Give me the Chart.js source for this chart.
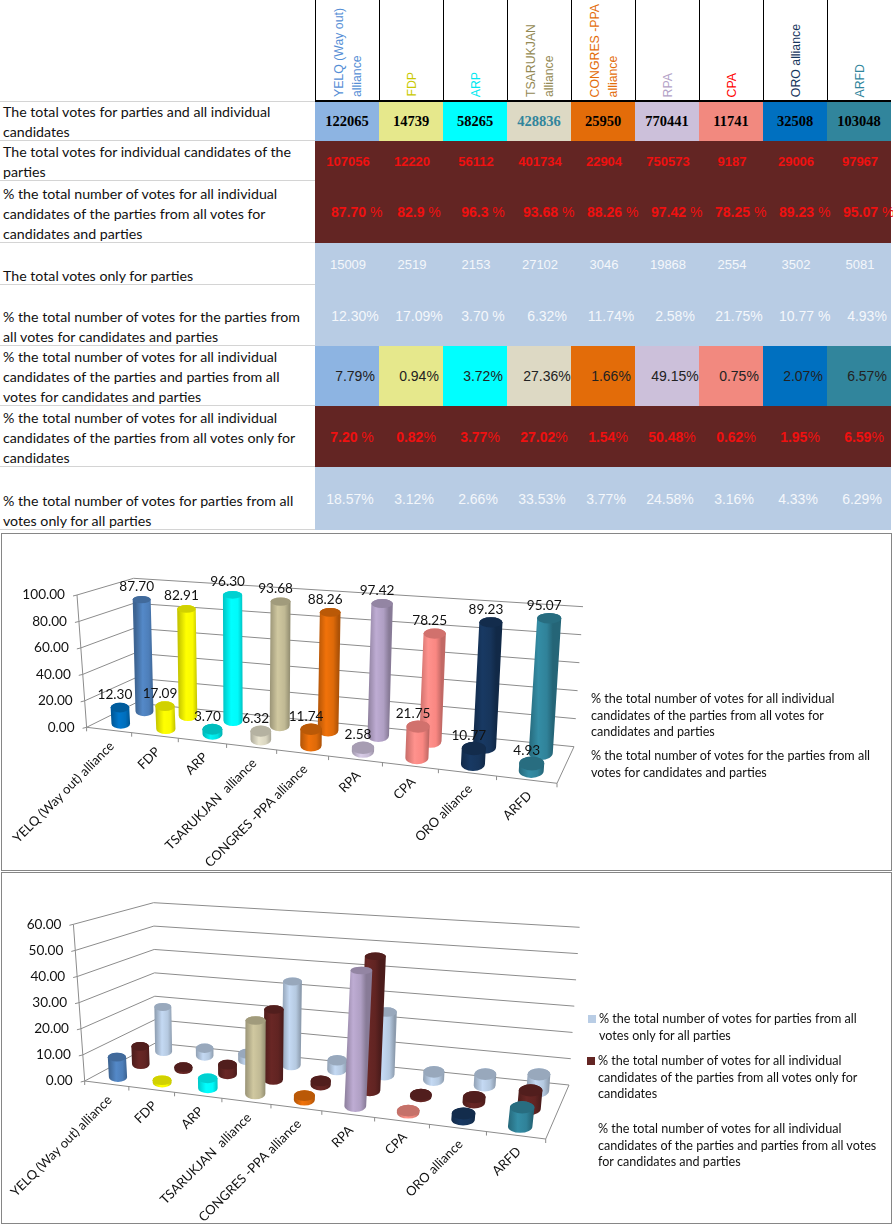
<!DOCTYPE html>
<html>
<head>
<meta charset="utf-8">
<script src="https://cdn.jsdelivr.net/npm/chart.js"></script>
<style>
  body { margin: 0; background: #fff; width: 893px; height: 1229px; position: relative; overflow: hidden; font-family: Lato, sans-serif; }
  table { position: absolute; left: 0; top: 0; border-collapse: separate; border-spacing: 0; table-layout: fixed; width: 891px; }
  td { padding: 0; text-align: center; vertical-align: middle; white-space: nowrap; box-sizing: border-box; }
  td.name { text-align: left; vertical-align: bottom; white-space: pre-line; font-size: 14.2px; line-height: 20px; padding-left: 3px; color: #111; border-bottom: 1px solid #d4d4d4; }
  td.name div { margin-top: -5px; position: relative; top: 2px; }
  td.head { border-left: 1px solid #000; border-bottom: 2px solid #000; vertical-align: bottom; padding-bottom: 3px; }
  td.head div { writing-mode: vertical-rl; transform: rotate(180deg); white-space: pre; font: 12.3px/18px "Liberation Sans", sans-serif; margin: 0 auto; text-align: left; }
  td span { font-weight: normal; }
  .panel { position: absolute; left: 1px; width: 889px; border: 1px solid #868686; }
  canvas { position: absolute; left: 0; }
  .legend { position: absolute; white-space: pre-line; font-size: 12.6px; line-height: 16.5px; color: #111; }
  .key { position: absolute; width: 8px; height: 8px; }
</style>
</head>
<body>
  <table id="votes"></table>
  <div class="panel" style="top:533px;height:336px"></div>
  <div class="panel" style="top:872px;height:350px"></div>
  <canvas id="chart1"></canvas>
  <canvas id="chart2"></canvas>

  <script>
    const categories = ['YELQ (Way out) alliance', 'FDP', 'ARP', 'TSARUKJAN  alliance', 'CONGRES -PPA alliance', 'RPA', 'CPA', 'ORO alliance', 'ARFD'];
    const headLabels = ['YELQ (Way out)\nalliance', 'FDP', 'ARP', 'TSARUKJAN\nalliance', 'CONGRES -PPA\nalliance', 'RPA', 'CPA', 'ORO alliance', 'ARFD'];
    const headColors = ['#558ed5', '#c9c900', '#00e8f0', '#948a54', '#e36c09', '#b3a2c7', '#ff0000', '#17365d', '#31859c'];
    const cellColors = ['#8db4e2', '#e6e88c', '#00ffff', '#ddd9c4', '#e36c09', '#ccc0da', '#f2897f', '#0070c0', '#31859c'];

    const rowNames = [
      'The total votes for parties and all individual\ncandidates',
      'The total votes for individual candidates of the\nparties',
      '% the total number of votes for all individual\ncandidates of the parties from all votes for\ncandidates and parties',
      'The total votes only for parties',
      '% the total number of votes for the parties from\nall votes for candidates and parties',
      '% the total number of votes for all individual\ncandidates of the parties and parties from all\nvotes for candidates and parties',
      '% the total number of votes for all individual\ncandidates of the parties from all votes only for\ncandidates',
      '% the total number of votes for parties from all\nvotes only for all parties'
    ];
    const totalVotes = ['122065', '14739', '58265', '428836', '25950', '770441', '11741', '32508', '103048'];
    const candidateVotes = ['107056', '12220', '56112', '401734', '22904', '750573', '9187', '29006', '97967'];
    const candidateShareText = ['87.70 %', '82.9 %', '96.3 %', '93.68 %', '88.26 %', '97.42 %', '78.25 %', '89.23 %', '95.07 %'];
    const partyVotes = ['15009', '2519', '2153', '27102', '3046', '19868', '2554', '3502', '5081'];
    const partyShareText = ['12.30%', '17.09%', '3.70 %', '6.32%', '11.74%', '2.58%', '21.75%', '10.77 %', '4.93%'];
    const allShareText = ['7.79%', '0.94%', '3.72%', '27.36%', '1.66%', '49.15%', '0.75%', '2.07%', '6.57%'];
    const onlyCandidateText = ['7.20 %', '0.82%', '3.77%', '27.02%', '1.54%', '50.48%', '0.62%', '1.95%', '6.59%'];
    const onlyPartyText = ['18.57%', '3.12%', '2.66%', '33.53%', '3.77%', '24.58%', '3.16%', '4.33%', '6.29%'];

    const candidateShare = [87.70, 82.91, 96.30, 93.68, 88.26, 97.42, 78.25, 89.23, 95.07];
    const partyShare = [12.30, 17.09, 3.70, 6.32, 11.74, 2.58, 21.75, 10.77, 4.93];
    const allShare = [7.79, 0.94, 3.72, 27.36, 1.66, 49.15, 0.75, 2.07, 6.57];
    const onlyCandidateShare = [7.20, 0.82, 3.77, 27.02, 1.54, 50.48, 0.62, 1.95, 6.59];
    const onlyPartyShare = [18.57, 3.12, 2.66, 33.53, 3.77, 24.58, 3.16, 4.33, 6.29];

    const backColors = ['#4f81bd', '#ffff00', '#00ffff', '#c4bd97', '#e36c09', '#b3a2c7', '#ff8a85', '#17365d', '#31859c'];
    const frontColors = ['#0070c0', '#ffff00', '#00e6e6', '#ddd9c4', '#e36c09', '#ccc0da', '#ff8a85', '#17365d', '#31859c'];
    const chart2Colors = ['#4f81bd', '#ffff00', '#00ffff', '#c4bd97', '#e36c09', '#b3a2c7', '#f08a80', '#17365d', '#31859c'];

    // table
    const SANS = "'Liberation Sans'";
    const rows = [
      { text: totalVotes, bg: cellColors, h: 39, pad: 0, font: "bold 14.5px 'Liberation Serif'", color: '#000' },
      { text: candidateVotes, bg: '#632523', h: 40, pad: 2, font: 'bold 13px ' + SANS, color: '#f01010' },
      { text: candidateShareText, bg: '#632523', h: 62, pad: 16, font: 'bold 14px ' + SANS, color: '#f01010' },
      { text: partyVotes, bg: '#b8cce4', h: 42, pad: 2, font: '13px ' + SANS, color: '#f4f7fb' },
      { text: partyShareText, bg: '#b8cce4', h: 61, pad: 16, font: '14px ' + SANS, color: '#f4f7fb' },
      { text: allShareText, bg: cellColors, h: 60, pad: 16, font: '14px ' + SANS, color: '#222' },
      { text: onlyCandidateText, bg: '#632523', h: 61, pad: 10, font: 'bold 14px ' + SANS, color: '#f01010' },
      { text: onlyPartyText, bg: '#b8cce4', h: 63, pad: 6, font: '14px ' + SANS, color: '#f4f7fb' }
    ];
    var html = '<colgroup><col style="width:315px">' + categories.map(() => '<col style="width:64px">').join('') + '</colgroup>';
    html += '<tr style="height:102px"><td style="border-bottom:1px solid #d4d4d4"></td>' + headLabels.map((t, i) =>
      '<td class="head"><div style="color:' + headColors[i] + '">' + t + '</div></td>').join('') + '</tr>';
    rows.forEach((r, n) => {
      html += '<tr style="height:' + r.h + 'px"><td class="name"><div>' + rowNames[n] + '</div></td>' + r.text.map((t, i) => {
        var bg = Array.isArray(r.bg) ? r.bg[i] : r.bg;
        var color = (n == 0 && i == 3) ? '#31859c' : r.color;
        return '<td style="background:' + bg + ';color:' + color + ';font:' + r.font + ';padding-left:' + r.pad + 'px">' + t.replace('%', '<span>%</span>') + '</td>';
      }).join('') + '</tr>';
    });
    document.getElementById('votes').innerHTML = html;

    // maps u,w in the unit square onto a quad; k squeezes u for the perspective
    function quadMap(q, k) {
      return (u, w) => {
        var s = u / (u + k * (1 - u));
        var fx = q[0][0] + (q[1][0] - q[0][0]) * s, fy = q[0][1] + (q[1][1] - q[0][1]) * s;
        var bx = q[3][0] + (q[2][0] - q[3][0]) * s, by = q[3][1] + (q[2][1] - q[3][1]) * s;
        return [fx + (bx - fx) * w, fy + (by - fy) * w];
      };
    }

    function shade(hex, f) {
      var n = parseInt(hex.slice(1), 16);
      var c = [n >> 16, (n >> 8) & 255, n & 255].map(v => Math.min(255, Math.round(v * f)));
      return 'rgb(' + c.join(',') + ')';
    }

    function drawCylinder(ctx, base, top, rx, ryBase, ryTop, color) {
      var grad = ctx.createLinearGradient(base[0] - rx, 0, base[0] + rx, 0);
      grad.addColorStop(0, shade(color, 0.78));
      grad.addColorStop(0.4, shade(color, 1.06));
      grad.addColorStop(0.75, shade(color, 0.98));
      grad.addColorStop(1, shade(color, 0.76));
      ctx.fillStyle = grad;
      ctx.beginPath();
      ctx.ellipse(base[0], base[1], rx, ryBase, 0, Math.PI, 0, true);
      ctx.lineTo(top[0] + rx, top[1]);
      ctx.ellipse(top[0], top[1], rx, ryTop, 0, 0, Math.PI, true);
      ctx.closePath();
      ctx.fill();
      ctx.fillStyle = shade(color, 0.82);
      ctx.beginPath();
      ctx.ellipse(top[0], top[1], rx, ryTop, 0, 0, Math.PI * 2);
      ctx.fill();
    }

    // draws the 3D box and the cylinders from the positions Chart.js worked out
    const cylinders3d = {
      id: 'cylinders3d',
      beforeDatasetsDraw(chart, args, opts) {
        var ctx = chart.ctx, area = chart.chartArea;
        var floor = quadMap(opts.floor, 1.18), roof = quadMap(opts.roof, 1.18);
        var yScale = chart.scales.y;
        var project = (u, v, w) => {
          var a = floor(u, w), b = roof(u, w);
          return [a[0] + (b[0] - a[0]) * v, a[1] + (b[1] - a[1]) * v];
        };
        var heightOf = val => (area.bottom - yScale.getPixelForValue(val)) / area.height;
        var line = (p, q) => { ctx.moveTo(p[0], p[1]); ctx.lineTo(q[0], q[1]); };

        ctx.save();
        ctx.strokeStyle = '#8c8c8c';
        ctx.lineWidth = 1;
        ctx.beginPath();
        yScale.ticks.forEach(t => {
          var v = heightOf(t.value);
          line(project(0, v, 0), project(0, v, 1));
          line(project(0, v, 1), project(1, v, 1));
          var p = project(0, v, 0);
          line(p, [p[0] - 4, p[1] + 1]);
        });
        line(project(0, 0, 0), project(0, 1, 0));
        line(project(0, 0, 0), project(1, 0, 0));
        line(project(1, 0, 0), project(1, 0, 1));
        chart.data.labels.forEach((l, i) => {
          var p = project(i / chart.data.labels.length, 0, 0);
          line(p, [p[0], p[1] + 4]);
        });
        var last = project(1, 0, 0);
        line(last, [last[0], last[1] + 4]);
        ctx.stroke();

        ctx.fillStyle = '#111';
        ctx.font = opts.tickFont;
        ctx.textAlign = 'right';
        ctx.textBaseline = 'middle';
        yScale.ticks.forEach(t => {
          var p = project(0, heightOf(t.value), 0);
          ctx.fillText(t.value.toFixed(2), p[0] - 12, p[1]);
        });

        ctx.font = opts.categoryFont;
        chart.data.labels.forEach((l, i) => {
          var p = project((i + 0.5) / chart.data.labels.length, 0, 0);
          ctx.save();
          ctx.translate(p[0] + 3, p[1] + 14);
          ctx.rotate(-Math.PI / 4);
          ctx.fillText(l, 0, 0);
          ctx.restore();
        });

        // back row first so the nearer cylinders cover it
        var order = chart.data.datasets.map((d, i) => i).sort((a, b) => chart.data.datasets[b].depth - chart.data.datasets[a].depth);
        order.forEach(n => {
          var ds = chart.data.datasets[n];
          chart.getDatasetMeta(n).data.forEach((bar, i) => {
            var u = (bar.x - area.left) / area.width;
            var half = bar.width / 2 / area.width;
            var v = (area.bottom - bar.y) / area.height;
            var sizes = h => ({
              rx: Math.abs(project(u + half, h, ds.depth)[0] - project(u - half, h, ds.depth)[0]) / 2,
              ry: Math.abs(project(u, h, ds.depth + opts.depthRadius)[1] - project(u, h, ds.depth - opts.depthRadius)[1]) / 2
            });
            var base = project(u, 0, ds.depth), top = project(u, v, ds.depth);
            var s0 = sizes(0), s1 = sizes(v);
            var color = Array.isArray(ds.backgroundColor) ? ds.backgroundColor[i] : ds.backgroundColor;
            drawCylinder(ctx, base, top, s0.rx, s0.ry, s1.ry, color);
          });
        });

        if (opts.valueLabels) {
          ctx.font = opts.tickFont;
          ctx.textAlign = 'center';
          ctx.fillStyle = '#111';
          order.forEach(n => {
            var ds = chart.data.datasets[n];
            chart.getDatasetMeta(n).data.forEach((bar, i) => {
              var u = (bar.x - area.left) / area.width;
              var p = project(u, (area.bottom - bar.y) / area.height, ds.depth);
              ctx.fillText(ds.data[i].toFixed(2), p[0] - 5, p[1] - 13);
            });
          });
        }
        ctx.restore();
        return false; // the flat bars are not wanted
      }
    };

    function makeChart(id, panelTop, panelHeight, datasets, maxValue, step, opts) {
      var c = document.getElementById(id);
      c.width = 893; c.height = panelHeight;
      c.style.top = panelTop + 'px';
      var shift = q => q.map(p => [p[0], p[1] - panelTop]);
      return new Chart(c.getContext('2d'), {
        type: 'bar',
        data: { labels: categories, datasets: datasets },
        options: {
          responsive: false,
          animation: false,
          layout: { padding: 0 },
          barPercentage: 0.42,
          categoryPercentage: 1,
          datasets: { bar: { grouped: false } },
          scales: {
            x: { display: false },
            y: { display: false, min: 0, max: maxValue, ticks: { stepSize: step } }
          },
          plugins: {
            legend: { display: false },
            tooltip: { enabled: false },
            cylinders3d: {
              floor: shift(opts.floor), roof: shift(opts.roof),
              depthRadius: opts.depthRadius, valueLabels: opts.valueLabels,
              tickFont: '13.6px Lato', categoryFont: '13px Lato'
            }
          }
        },
        plugins: [cylinders3d]
      });
    }

    makeChart('chart1', 533, 338, [
      { label: 'share of candidates', data: candidateShare, backgroundColor: backColors, depth: 0.75 },
      { label: 'share of parties', data: partyShare, backgroundColor: frontColors, depth: 0.25 }
    ], 100, 20, {
      floor: [[86.6, 727.3], [557, 783.3], [574, 746.7], [135.5, 703]],
      roof: [[77, 595], [569, 633], [583, 606.7], [133.6, 578.3]],
      depthRadius: 0.2, valueLabels: true
    });

    makeChart('chart2', 872, 352, [
      { label: 'share of all', data: allShare, backgroundColor: chart2Colors, depth: 1 / 6 },
      { label: 'only candidates', data: onlyCandidateShare, backgroundColor: '#632523', depth: 0.5 },
      { label: 'only parties', data: onlyPartyShare, backgroundColor: '#b9cde5', depth: 5 / 6 }
    ], 60, 10, {
      floor: [[84.7, 1081], [545.7, 1139], [569, 1085], [155.4, 1043]],
      roof: [[73.4, 924.3], [568, 961], [579.6, 927.3], [153.6, 902.7]],
      depthRadius: 0.12, valueLabels: false
    });

    // legends
    const legendEntries = [
      { text: rowNames[2], x: 591, y: 691 },
      { text: '% the total number of votes for the parties from all\nvotes for candidates and parties', x: 591, y: 748 },
      { text: '% the total number of votes for parties from all\nvotes only for all parties', x: 599, y: 1011, key: '#b9cde5', kx: 588, ky: 1015 },
      { text: rowNames[6], x: 598, y: 1053, key: '#632523', kx: 587, ky: 1057 },
      { text: '% the total number of votes for all individual\ncandidates of the parties and parties from all votes\nfor candidates and parties', x: 598, y: 1121 }
    ];
    legendEntries.forEach(e => {
      var d = document.createElement('div');
      d.className = 'legend';
      d.style.left = e.x + 'px';
      d.style.top = e.y + 'px';
      d.textContent = e.text;
      document.body.appendChild(d);
      if (e.key) {
        var k = document.createElement('div');
        k.className = 'key';
        k.style.cssText = 'left:' + e.kx + 'px;top:' + e.ky + 'px;background:' + e.key;
        document.body.appendChild(k);
      }
    });
  </script>
</body>
</html>
